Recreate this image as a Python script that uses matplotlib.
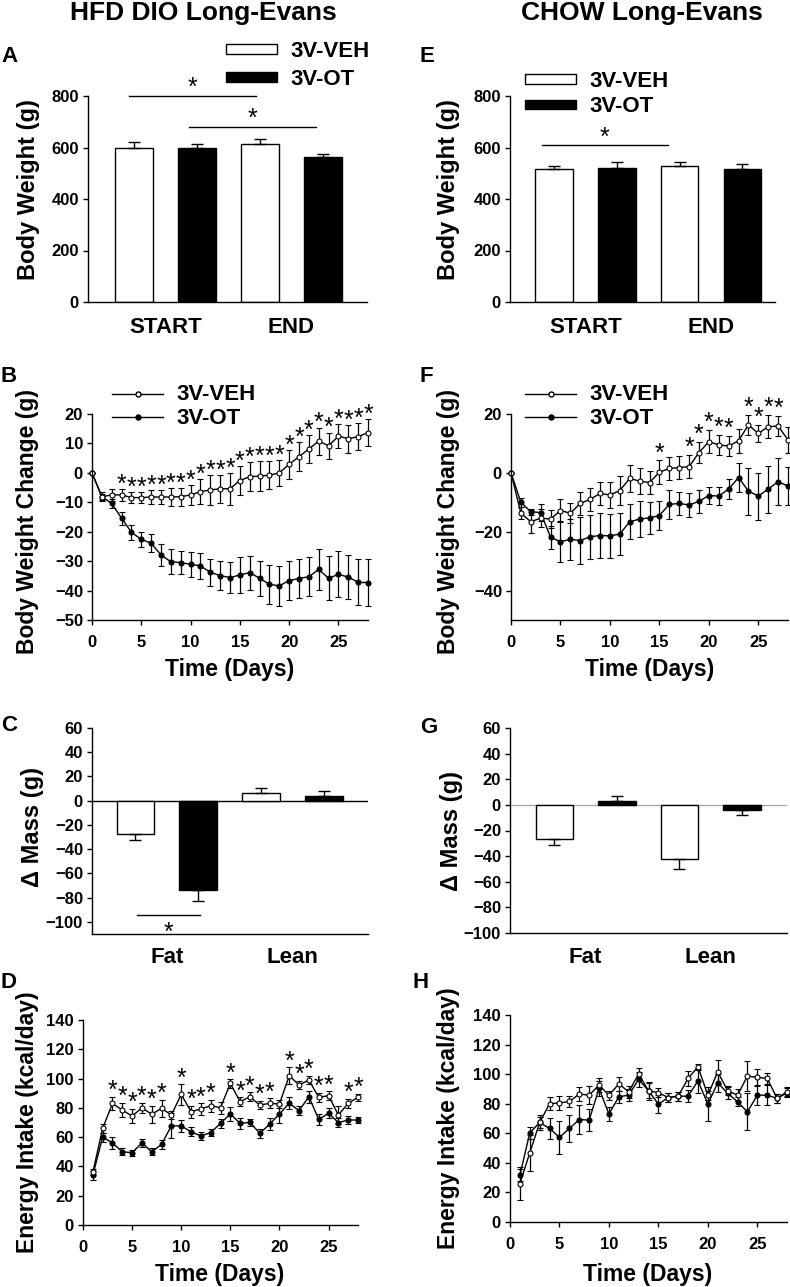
import numpy as np
import matplotlib
matplotlib.use('Agg')
import matplotlib.pyplot as plt
from matplotlib.patches import Patch
from matplotlib.lines import Line2D

plt.rcParams['font.family'] = ['Liberation Sans', 'DejaVu Sans']
plt.rcParams['font.weight'] = 'bold'
plt.rcParams['axes.linewidth'] = 1.0

# ---- data ----
groups = ['3V-VEH', '3V-OT']
bw_cats = ['START', 'END']
mass_cats = ['Fat', 'Lean']

# A / E: body weight (VEH start, OT start, VEH end, OT end)
hfd_bw = [600, 600, 612, 563]
hfd_bw_err = [20, 15, 22, 13]
chow_bw = [515, 522, 527, 517]
chow_bw_err = [15, 23, 15, 20]

# B / F: body weight change
days_bw = np.arange(0, 29)
hfd_chg_veh = [0, -8.1, -7.5, -7.5, -8.4, -8.4, -8.2, -8.2, -8.2, -8.1, -7.5, -6.4, -5.8, -5.4, -5.4,
               -2.6, -1.3, -1.1, -0.8, 0.0, 2.9, 5.5, 8.1, 10.8, 9.2, 12.5, 11.6, 12.3, 13.7]
hfd_chg_veh_err = [0, 1.5, 2, 1.9, 2, 2, 2.5, 2.5, 3, 3, 3.4, 4.2, 5, 4.8, 5.4,
                   5, 5, 5, 4.8, 4.4, 5, 5, 4.8, 4.6, 4.5, 4.2, 4.8, 4.6, 4.6]
hfd_chg_ot = [0, -8.1, -10.4, -15.4, -20.2, -22.6, -23.9, -27.9, -30.2, -30.5, -31.1, -31.6, -33.8, -34.9, -35.6,
              -34.7, -33.9, -35.8, -37.9, -38.4, -36.6, -35.9, -35.3, -32.8, -35.8, -34.5, -35.4, -37.2, -37.3]
hfd_chg_ot_err = [0, 1, 1.5, 2.2, 2.6, 2.6, 3, 3.8, 4.2, 4, 4.2, 4.4, 4.6, 4.8, 5.2,
                  6, 5.8, 6, 6.6, 6.8, 6.6, 6.6, 6.6, 7, 7.4, 7.8, 7.4, 7.8, 7.9]
hfd_chg_sig = list(range(3, 29))

chow_chg_veh = [0, -13.7, -16.6, -15.4, -15.7, -12.8, -13.7, -10.4, -9.0, -7.0, -7.5, -6.0, -1.9, -2.8, -3.3,
                0.2, 1.5, 1.8, 2.1, 6.9, 10.6, 9.5, 9.1, 10.9, 16.3, 13.4, 15.7, 15.9, 11.2]
chow_chg_veh_err = [0, 2, 4, 3, 3, 4, 3.5, 4, 4, 4, 4.5, 5, 4.5, 4.5, 4,
                    4, 4, 4, 4, 3.5, 4, 3.5, 3.5, 4, 3.5, 3, 4, 3.5, 4.4]
chow_chg_ot = [0, -10, -13.2, -13.5, -21.9, -23.4, -22.6, -23.0, -21.7, -21.3, -21.4, -20.8, -16.6, -15.7, -15.3,
               -14.5, -10.7, -10.4, -10.9, -9.7, -7.7, -7.9, -5.5, -1.6, -6.2, -7.9, -5.5, -3.0, -4.5]
chow_chg_ot_err = [0, 1.5, 1, 3, 4, 7, 7, 8, 7.5, 7.5, 7.5, 7, 6, 6, 5.5,
                   5, 5, 4, 4, 4, 3, 3, 3.5, 5, 8, 8, 8, 8, 6.5]
chow_chg_sig = [15, 18, 19, 20, 21, 22, 24, 25, 26, 27]

# C / G: change in fat and lean mass (VEH fat, OT fat, VEH lean, OT lean)
hfd_mass = [-27.5, -73.5, 6.5, 4.2]
hfd_mass_err = [5, 9, 3.6, 3.8]
chow_mass = [-26.6, 2.8, -42.2, -3.7]
chow_mass_err = [5, 4, 8, 4.5]

# D / H: energy intake
days_ei = np.arange(1, 29)
hfd_ei_veh = [36, 66, 83, 78.5, 74.4, 80, 75.6, 79.7, 75.1, 89.2, 77.4, 79.2, 81.5, 80.1,
              96.7, 84.2, 87.6, 81.9, 83.1, 82.6, 102, 95.6, 99, 87.2, 88.3, 75.1, 83.1, 87.2]
hfd_ei_veh_err = [2, 3, 4.5, 5, 5, 3.5, 6, 6, 3, 7, 4, 4, 4, 4,
                  3, 3, 3, 3, 3.5, 3, 5.7, 3, 3, 3, 3, 6, 3, 2.5]
hfd_ei_ot = [34, 60, 56, 50, 49.4, 56, 50, 55, 67.8, 67.6, 63.7, 60.8, 63.1, 69.4,
             75.8, 69.4, 70.1, 62.6, 68.8, 75.8, 83.1, 78.1, 87.6, 72.1, 76.3, 69.9, 71.7, 71.7]
hfd_ei_ot_err = [3, 3, 4, 2.5, 2, 3, 2.5, 3, 8.5, 4, 3, 2.5, 2.5, 3,
                 4.5, 4, 2.5, 3, 4, 6, 4, 3, 4, 3.5, 3.5, 3, 2.5, 2]
hfd_ei_sig = [3, 4, 5, 6, 7, 8, 10, 11, 12, 13, 15, 16, 17, 18, 19, 21, 22, 23, 24, 25, 27, 28]

chow_ei_veh = [26, 46.8, 67.3, 80, 80.5, 81.5, 86.5, 85.8, 92.6, 85.8, 93.3, 88.1, 100, 88.8,
               87.4, 84.2, 85.1, 97.1, 105, 85.8, 101.6, 88.8, 85.8, 98.7, 97.8, 97.1, 83.6, 88.1]
chow_ei_veh_err = [11, 12, 5, 4.5, 5, 4, 4.5, 6, 5, 3, 5, 4, 4, 5,
                   3, 3, 3, 5, 2, 3, 8, 3, 4, 10, 6, 4, 3, 3]
chow_ei_ot = [31.6, 60.3, 67.3, 63.3, 57.2, 63.3, 69.3, 68.9, 90.3, 73, 84.7, 85.8, 96.4, 88.8,
              79.7, 84.2, 85.1, 85.1, 95.5, 79.7, 94.2, 87, 81.3, 74.5, 85.8, 85.8, 83.6, 87.4]
chow_ei_ot_err = [4, 4, 4, 7, 11, 9, 9.5, 7.5, 5, 5, 4, 4, 5, 6,
                  6, 3, 3, 4, 8, 11.5, 6, 4, 3, 12.5, 7, 7, 3, 3]

# ---- figure ----
W, H = 790, 1287
fig = plt.figure(figsize=(W / 100, H / 100), dpi=100)

STAR = dict(fontsize=18, fontweight='normal')


def px_axes(l, t, r, b):
    return fig.add_axes([l / W, 1 - b / H, (r - l) / W, (b - t) / H])


def ftext(x, y, s, **kw):
    fig.text(x / W, 1 - y / H, s, **kw)


def style(ax):
    ax.spines['top'].set_visible(False)
    ax.spines['right'].set_visible(False)
    ax.tick_params(direction='out', length=3.5, width=1, labelsize=12, pad=3)


def bar_panel(ax, vals, errs, xlim, ylim, yticks, cats):
    x = np.arange(len(vals))
    colors = ['white', 'black'] * 2
    ax.bar(x, vals, width=0.6, color=colors, edgecolor='black', linewidth=1, zorder=2)
    for xi, v, e in zip(x, vals, errs):
        lo, hi = (e, 0) if v < 0 else (0, e)
        ax.errorbar(xi, v, yerr=[[lo], [hi]], fmt='none', ecolor='black',
                    elinewidth=1, capsize=4, capthick=1, zorder=3)
    ax.set_xlim(*xlim)
    ax.set_ylim(*ylim)
    ax.set_yticks(yticks)
    ax.set_xticks([0.5, 2.5], cats)
    style(ax)
    ax.tick_params(axis='x', length=0, labelsize=16, pad=11)


def line_panel(ax, days, veh, veh_err, ot, ot_err, ylim, yticks):
    kw = dict(color='black', marker='o', ms=3.6, mec='black', mew=0.8, lw=1.0,
              elinewidth=0.9, capsize=2.5, capthick=0.9)
    c1 = ax.errorbar(days, ot, yerr=ot_err, mfc='black', **kw)
    c2 = ax.errorbar(days, veh, yerr=veh_err, mfc='white', **kw)
    for c in (c1, c2):
        for art in c.get_children():
            art.set_clip_on(False)
    ax.set_xlim(0, 28)
    ax.set_xticks([0, 5, 10, 15, 20, 25])
    ax.set_ylim(*ylim)
    ax.set_yticks(yticks)
    style(ax)
    ax.tick_params(axis='x', pad=7)


def stars(ax, sig, days, mean, err, off):
    days = list(days)
    for d in sig:
        i = days.index(d)
        ax.annotate('*', (d, mean[i] + err[i]), xytext=(0, off), textcoords='offset points',
                    ha='center', va='baseline', annotation_clip=False, **STAR)


def sig_bar(ax, x0, x1, y, off):
    ax.plot([x0, x1], [y, y], color='black', lw=1, clip_on=False)
    ax.annotate('*', ((x0 + x1) / 2, y), xytext=(0, off), textcoords='offset points',
                ha='center', va='baseline', annotation_clip=False, **STAR)


bar_handles = [Patch(facecolor='white', edgecolor='black', lw=1),
               Patch(facecolor='black', edgecolor='black', lw=1)]
line_handles = [Line2D([], [], color='black', lw=1, marker='o', ms=3.6, mfc='white', mec='black'),
                Line2D([], [], color='black', lw=1, marker='o', ms=3.6, mfc='black', mec='black')]


def legend(ax, handles, x, y, spacing):
    ax.legend(handles, groups, loc='upper left', bbox_to_anchor=(x / W, 1 - y / H),
              bbox_transform=fig.transFigure, frameon=False,
              prop={'size': 16, 'weight': 'bold'},
              handlelength=2.3, handleheight=0.3, handletextpad=0.6,
              labelspacing=spacing, borderpad=0, borderaxespad=0)


# titles
ftext(203, 13, 'HFD DIO Long-Evans', ha='center', va='center', fontsize=19)
ftext(642, 13, 'CHOW Long-Evans', ha='center', va='center', fontsize=19)

# panel letters
for lab, x, y in [('A', 1, 62), ('E', 420, 62), ('B', 1, 382), ('F', 420, 382),
                  ('C', 1, 731), ('G', 420, 733), ('D', 1, 988), ('H', 413, 988)]:
    ftext(x, y, lab, ha='left', va='baseline', fontsize=16)

# A
axA = px_axes(88, 96, 367, 302)
bar_panel(axA, hfd_bw, hfd_bw_err, (-0.73, 3.70), (0, 800), range(0, 801, 200), bw_cats)
sig_bar(axA, -0.08, 1.94, 800, 1)
sig_bar(axA, 0.87, 2.89, 680, 1)
legend(axA, bar_handles, 226, 41, 0.3)
ftext(29, 190, 'Body Weight (g)', rotation=90, ha='center', va='center', fontsize=17)

# E
axE = px_axes(510, 96, 775, 302)
bar_panel(axE, chow_bw, chow_bw_err, (-0.70, 3.52), (0, 800), range(0, 801, 200), bw_cats)
sig_bar(axE, -0.19, 1.81, 610, 0)
legend(axE, bar_handles, 525, 71, 0.2)
ftext(448, 190, 'Body Weight (g)', rotation=90, ha='center', va='center', fontsize=17)

# B
axB = px_axes(92, 414, 368, 620)
line_panel(axB, days_bw, hfd_chg_veh, hfd_chg_veh_err, hfd_chg_ot, hfd_chg_ot_err,
           (-50, 20), range(-50, 21, 10))
stars(axB, hfd_chg_sig, days_bw, hfd_chg_veh, hfd_chg_veh_err, -2)
legend(axB, line_handles, 112, 384, 0.12)
ftext(28, 521, 'Body Weight Change (g)', rotation=90, ha='center', va='center', fontsize=16.5)
ftext(230, 676, 'Time (Days)', ha='center', va='baseline', fontsize=16.5)

# F
axF = px_axes(511, 414, 788, 620)
line_panel(axF, days_bw, chow_chg_veh, chow_chg_veh_err, chow_chg_ot, chow_chg_ot_err,
           (-50, 20), range(-40, 21, 20))
stars(axF, chow_chg_sig, days_bw, chow_chg_veh, chow_chg_veh_err, 0)
legend(axF, line_handles, 525, 384, 0.12)
ftext(448, 521, 'Body Weight Change (g)', rotation=90, ha='center', va='center', fontsize=16.5)
ftext(650, 676, 'Time (Days)', ha='center', va='baseline', fontsize=16.5)

# C
axC = px_axes(92, 728, 368, 934)
bar_panel(axC, hfd_mass, hfd_mass_err, (-0.69, 3.70), (-110, 60), range(-100, 61, 20), mass_cats)
axC.axhline(0, color='black', lw=1, zorder=1)
axC.tick_params(axis='x', pad=9.5)
sig_bar(axC, 0.02, 1.02, -94, -18)
ftext(32, 827, '\u0394 Mass (g)', rotation=90, ha='center', va='center', fontsize=17)

# G
axG = px_axes(510, 728, 787, 933)
bar_panel(axG, chow_mass, chow_mass_err, (-0.71, 3.72), (-100, 60), range(-100, 61, 20), mass_cats)
axG.axhline(0, color='#aaaaaa', lw=1, zorder=1)
axG.tick_params(axis='x', pad=10)
ftext(451, 831, '\u0394 Mass (g)', rotation=90, ha='center', va='center', fontsize=17)

# D
axD = px_axes(83, 1020, 358, 1225)
line_panel(axD, days_ei, hfd_ei_veh, hfd_ei_veh_err, hfd_ei_ot, hfd_ei_ot_err,
           (0, 140), range(0, 141, 20))
stars(axD, hfd_ei_sig, days_ei, hfd_ei_veh, hfd_ei_veh_err, -1)
ftext(28, 1122, 'Energy Intake (kcal/day)', rotation=90, ha='center', va='center', fontsize=16.5)
ftext(220, 1281, 'Time (Days)', ha='center', va='baseline', fontsize=16.5)

# H
axH = px_axes(510, 1015, 787, 1222)
line_panel(axH, days_ei, chow_ei_veh, chow_ei_veh_err, chow_ei_ot, chow_ei_ot_err,
           (0, 140), range(0, 141, 20))
ftext(448, 1118, 'Energy Intake (kcal/day)', rotation=90, ha='center', va='center', fontsize=16.5)
ftext(648, 1281, 'Time (Days)', ha='center', va='baseline', fontsize=16.5)

fig.savefig('out.png', dpi=100)
